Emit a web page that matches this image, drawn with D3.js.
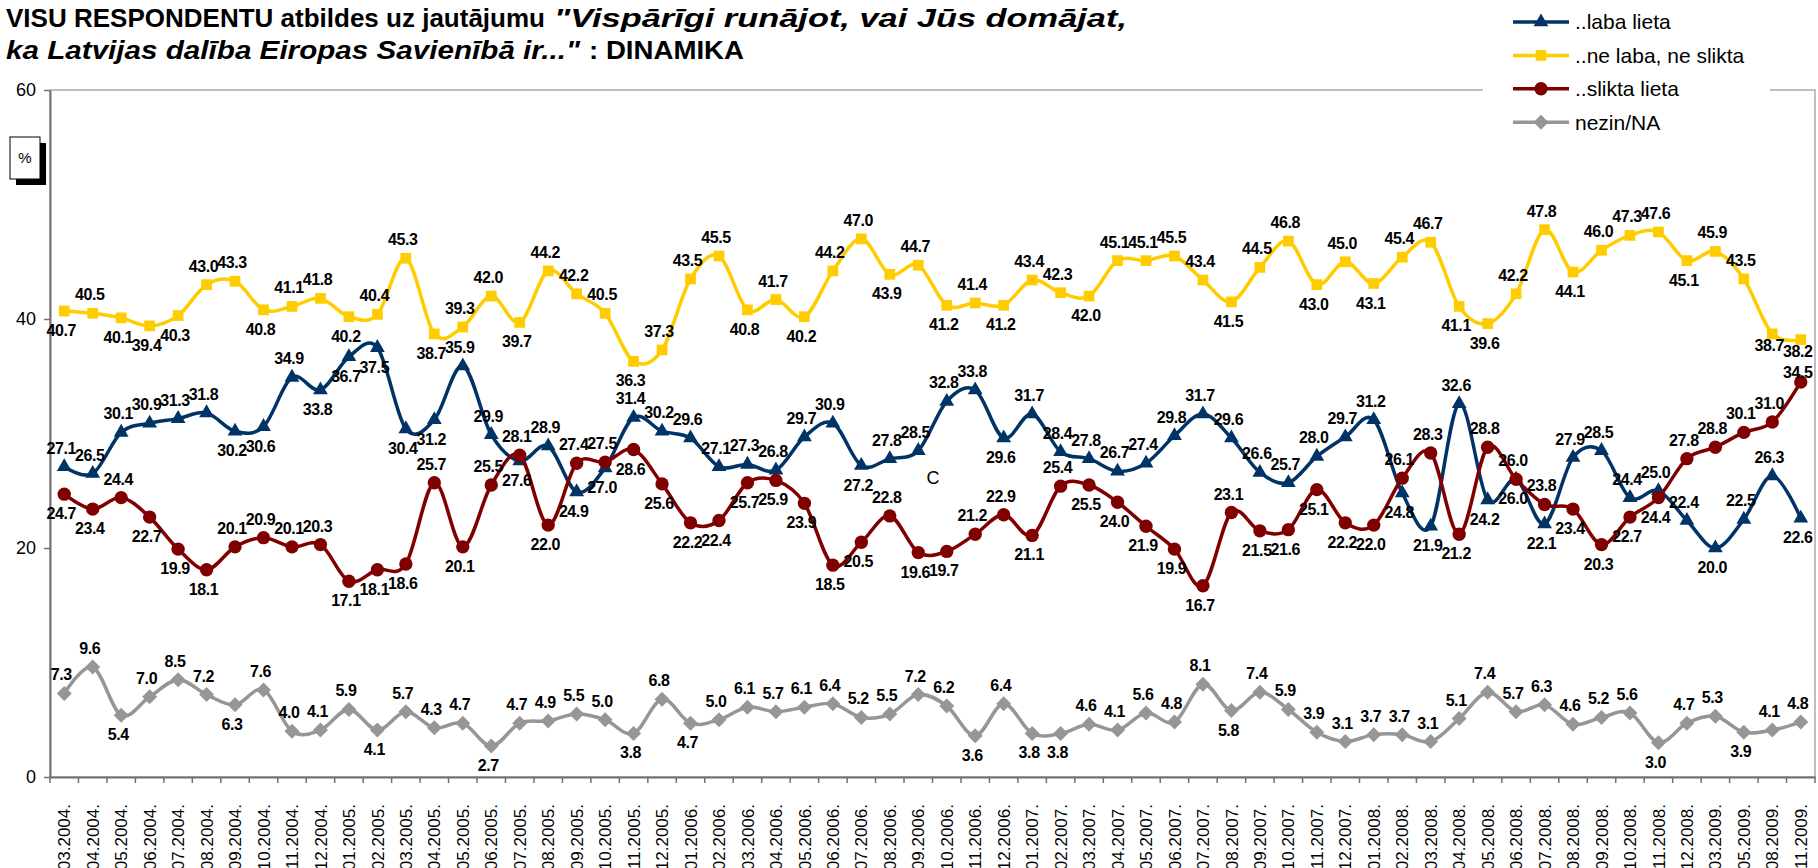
<!DOCTYPE html>
<html>
<head>
<meta charset="utf-8">
<script src="https://cdnjs.cloudflare.com/ajax/libs/d3/7.8.5/d3.min.js"></script>
<style>
    body { margin: 0; background: #fff; }
    svg { display: block; font-family: "Liberation Sans", Arial, sans-serif; }
</style>
</head>
<body>
<svg id="chart" width="1818" height="868"></svg>
<script>
var months = ["03.2004.", "04.2004.", "05.2004.", "06.2004.", "07.2004.", "08.2004.", "09.2004.", "10.2004.", "11.2004.", "12.2004.",
    "01.2005.", "02.2005.", "03.2005.", "04.2005.", "05.2005.", "06.2005.", "07.2005.", "08.2005.", "09.2005.", "10.2005.", "11.2005.", "12.2005.",
    "01.2006.", "02.2006.", "03.2006.", "04.2006.", "05.2006.", "06.2006.", "07.2006.", "08.2006.", "09.2006.", "10.2006.", "11.2006.", "12.2006.",
    "01.2007.", "02.2007.", "03.2007.", "04.2007.", "05.2007.", "06.2007.", "07.2007.", "08.2007.", "09.2007.", "10.2007.", "11.2007.", "12.2007.",
    "01.2008.", "02.2008.", "03.2008.", "04.2008.", "05.2008.", "06.2008.", "07.2008.", "08.2008.", "09.2008.", "10.2008.", "11.2008.", "12.2008.",
    "03.2009.", "05.2009.", "08.2009.", "11.2009."];

var labaLieta = [27.1, 26.5, 30.1, 30.9, 31.3, 31.8, 30.2, 30.6, 34.9, 33.8,
    36.7, 37.5, 30.4, 31.2, 35.9, 29.9, 27.6, 28.9, 24.9, 27.0,
    31.4, 30.2, 29.6, 27.1, 27.3, 26.8, 29.7, 30.9, 27.2, 27.8,
    28.5, 32.8, 33.8, 29.6, 31.7, 28.4, 27.8, 26.7, 27.4, 29.8,
    31.7, 29.6, 26.6, 25.7, 28.0, 29.7, 31.2, 24.8, 21.9, 32.6,
    24.2, 26.0, 22.1, 27.9, 28.5, 24.4, 25.0, 22.4, 20.0, 22.5,
    26.3, 22.6];

var neLabaNeSlikta = [40.7, 40.5, 40.1, 39.4, 40.3, 43.0, 43.3, 40.8, 41.1, 41.8,
    40.2, 40.4, 45.3, 38.7, 39.3, 42.0, 39.7, 44.2, 42.2, 40.5,
    36.3, 37.3, 43.5, 45.5, 40.8, 41.7, 40.2, 44.2, 47.0, 43.9,
    44.7, 41.2, 41.4, 41.2, 43.4, 42.3, 42.0, 45.1, 45.1, 45.5,
    43.4, 41.5, 44.5, 46.8, 43.0, 45.0, 43.1, 45.4, 46.7, 41.1,
    39.6, 42.2, 47.8, 44.1, 46.0, 47.3, 47.6, 45.1, 45.9, 43.5,
    38.7, 38.2];

var sliktaLieta = [24.7, 23.4, 24.4, 22.7, 19.9, 18.1, 20.1, 20.9, 20.1, 20.3,
    17.1, 18.1, 18.6, 25.7, 20.1, 25.5, 28.1, 22.0, 27.4, 27.5,
    28.6, 25.6, 22.2, 22.4, 25.7, 25.9, 23.9, 18.5, 20.5, 22.8,
    19.6, 19.7, 21.2, 22.9, 21.1, 25.4, 25.5, 24.0, 21.9, 19.9,
    16.7, 23.1, 21.5, 21.6, 25.1, 22.2, 22.0, 26.1, 28.3, 21.2,
    28.8, 26.0, 23.8, 23.4, 20.3, 22.7, 24.4, 27.8, 28.8, 30.1,
    31.0, 34.5];

var nezinNA = [7.3, 9.6, 5.4, 7.0, 8.5, 7.2, 6.3, 7.6, 4.0, 4.1,
    5.9, 4.1, 5.7, 4.3, 4.7, 2.7, 4.7, 4.9, 5.5, 5.0,
    3.8, 6.8, 4.7, 5.0, 6.1, 5.7, 6.1, 6.4, 5.2, 5.5,
    7.2, 6.2, 3.6, 6.4, 3.8, 3.8, 4.6, 4.1, 5.6, 4.8,
    8.1, 5.8, 7.4, 5.9, 3.9, 3.1, 3.7, 3.7, 3.1, 5.1,
    7.4, 5.7, 6.3, 4.6, 5.2, 5.6, 3.0, 4.7, 5.3, 3.9,
    4.1, 4.8];

var yTicks = [0, 20, 40, 60];

// where each value label sits: a = above, b = below, u / d = tight above / below
var labaPos   = "aaaaaabbab" + "bbbbaababb" + "aaaaaaaaba" + "aaabaaaaaa" + "aaaaaaabba" + "bbbaaaaaba" + "ab";
var neLabaPos = "babbbaabaa" + "baabaabaaa" + "baaababaab" + "ababaabaaa" + "abaababaab" + "baabaaabaa" + "dd";
var sliktaPos = "bbabbbaaaa" + "bbbabaabaa" + "bbbbbbbbba" + "bbaababbbb" + "babbbbbaab" + "aaabbbbaaa" + "au";
var nezinPos  = "aabaaabaaa" + "abaaabaaaa" + "babaaaaaaa" + "aababbaaaa" + "abaaaaaaaa" + "aaaaaabaab" + "aa";

var series = [
    {name: "..laba lieta", values: labaLieta, pos: labaPos, color: "#003366", marker: "triangle"},
    {name: "..ne laba, ne slikta", values: neLabaNeSlikta, pos: neLabaPos, color: "#ffcc00", marker: "square"},
    {name: "..slikta lieta", values: sliktaLieta, pos: sliktaPos, color: "#800000", marker: "circle"},
    {name: "nezin/NA", values: nezinNA, pos: nezinPos, color: "#969696", marker: "diamond"}
];

var svg = d3.select("#chart");
var plotLeft = 50, plotRight = 1815, plotTop = 90, plotBottom = 777;

var x = d3.scaleBand().domain(months).range([plotLeft, plotRight]);
var y = d3.scaleLinear().domain([0, 60]).range([plotBottom, plotTop]);

function cx(i) {
    return x(months[i]) + x.bandwidth() / 2;
}

function markerPath(type) {
    if (type == "triangle") return d3.symbol(d3.symbolTriangle, 95)();
    if (type == "square") return d3.symbol(d3.symbolSquare, 115)();
    if (type == "circle") return d3.symbol(d3.symbolCircle, 140)();
    return "M0,-7.5L7.5,0L0,7.5L-7.5,0Z"; //diamond
}

//baseline shift of a value label from its point
var labelShift = {a: -13, b: 25, u: -4, d: 17};

//plot frame
svg.append("rect")
    .attr("x", plotLeft)
    .attr("y", plotTop)
    .attr("width", plotRight - plotLeft)
    .attr("height", plotBottom - plotTop)
    .attr("fill", "none")
    .attr("stroke", "#808080")
    .attr("stroke-width", 1);

//y axis
var yAxis = svg.append("g")
    .attr("transform", "translate(" + plotLeft + ",0)")
    .call(d3.axisLeft(y).tickValues(yTicks).tickSize(6).tickPadding(8).tickSizeOuter(0));
yAxis.select(".domain").attr("stroke", "#707070").attr("stroke-width", 2);
yAxis.selectAll(".tick line").attr("stroke", "#707070").attr("stroke-width", 1.5);
yAxis.selectAll("text").attr("font-size", 18).attr("fill", "#000")
    .attr("font-family", "'Liberation Sans', Arial, sans-serif");

//x axis
var xAxis = svg.append("g")
    .attr("transform", "translate(0," + plotBottom + ")")
    .call(d3.axisBottom(x).tickSize(0).tickSizeOuter(0));
xAxis.select(".domain").attr("stroke", "#707070").attr("stroke-width", 2);
xAxis.selectAll("text")
    .attr("transform", "rotate(-90)")
    .attr("text-anchor", "end")
    .attr("x", -27)
    .attr("y", 0)
    .attr("dy", "0.36em")
    .attr("font-size", 17)
    .attr("fill", "#000")
    .attr("font-family", "'Liberation Sans', Arial, sans-serif");

//tick marks between the categories
svg.append("g").selectAll("line")
    .data(d3.range(months.length + 1))
    .enter().append("line")
    .attr("x1", function(d) { return plotLeft + d * x.step(); })
    .attr("x2", function(d) { return plotLeft + d * x.step(); })
    .attr("y1", plotBottom)
    .attr("y2", plotBottom + 6)
    .attr("stroke", "#707070")
    .attr("stroke-width", 1.5);

//lines and markers
var line = d3.line()
    .x(function(d, i) { return cx(i); })
    .y(function(d) { return y(d); })
    .curve(d3.curveCardinal.tension(0));

series.forEach(function(s) {
    var g = svg.append("g");

    g.append("path")
        .attr("d", line(s.values))
        .attr("fill", "none")
        .attr("stroke", s.color)
        .attr("stroke-width", 3.5)
        .attr("stroke-linejoin", "round");

    g.selectAll(".mark")
        .data(s.values)
        .enter().append("path")
        .attr("class", "mark")
        .attr("d", markerPath(s.marker))
        .attr("transform", function(d, i) { return "translate(" + cx(i) + "," + y(d) + ")"; })
        .attr("fill", s.color);
});

//value labels
series.forEach(function(s) {
    svg.append("g").selectAll("text")
        .data(s.values)
        .enter().append("text")
        .attr("x", function(d, i) { return cx(i) - 3; })
        .attr("y", function(d, i) { return y(d) + labelShift[s.pos[i]]; })
        .attr("text-anchor", "middle")
        .attr("font-size", 16)
        .attr("font-weight", "bold")
        .attr("letter-spacing", -0.4)
        .attr("fill", "#000")
        .text(function(d) { return d3.format(".1f")(d); });
});

//stray mark left on the original chart
svg.append("text")
    .attr("x", 933)
    .attr("y", 484)
    .attr("text-anchor", "middle")
    .attr("font-size", 18)
    .text("C");

//legend
var legend = svg.append("g");
legend.append("rect")
    .attr("x", 1483)
    .attr("y", 0)
    .attr("width", 287)
    .attr("height", 140)
    .attr("fill", "#fff");

series.forEach(function(s, i) {
    var ly = 22 + i * 33.4;
    legend.append("line")
        .attr("x1", 1513).attr("x2", 1569)
        .attr("y1", ly).attr("y2", ly)
        .attr("stroke", s.color)
        .attr("stroke-width", 3.5);
    legend.append("path")
        .attr("d", markerPath(s.marker))
        .attr("transform", "translate(1541," + ly + ")")
        .attr("fill", s.color);
    legend.append("text")
        .attr("x", 1575)
        .attr("y", ly)
        .attr("dy", "0.35em")
        .attr("font-size", 21)
        .text(s.name);
});

//percent box
svg.append("rect").attr("x", 16).attr("y", 143).attr("width", 30).attr("height", 42).attr("fill", "#000");
svg.append("rect").attr("x", 10).attr("y", 137).attr("width", 30).attr("height", 42)
    .attr("fill", "#fff").attr("stroke", "#000").attr("stroke-width", 1);
svg.append("text").attr("x", 25).attr("y", 163).attr("text-anchor", "middle").attr("font-size", 15).text("%");

//title, stretched to the widths used in the original
var titleParts = [
    {text: "VISU RESPONDENTU atbildes uz jautājumu", x: 6, y: 27, w: 539, italic: false},
    {text: "\"Vispārīgi runājot, vai Jūs domājat,", x: 554, y: 27, w: 573, italic: true},
    {text: "ka Latvijas dalība Eiropas Savienībā ir...\"", x: 6, y: 59, w: 574, italic: true},
    {text: ": DINAMIKA", x: 589, y: 59, w: 155, italic: false}
];
svg.append("g").selectAll("text")
    .data(titleParts)
    .enter().append("text")
    .attr("x", function(d) { return d.x; })
    .attr("y", function(d) { return d.y; })
    .attr("textLength", function(d) { return d.w; })
    .attr("lengthAdjust", "spacingAndGlyphs")
    .attr("font-size", 26)
    .attr("font-weight", "bold")
    .attr("font-style", function(d) { return d.italic ? "italic" : "normal"; })
    .text(function(d) { return d.text; });
</script>
</body>
</html>
